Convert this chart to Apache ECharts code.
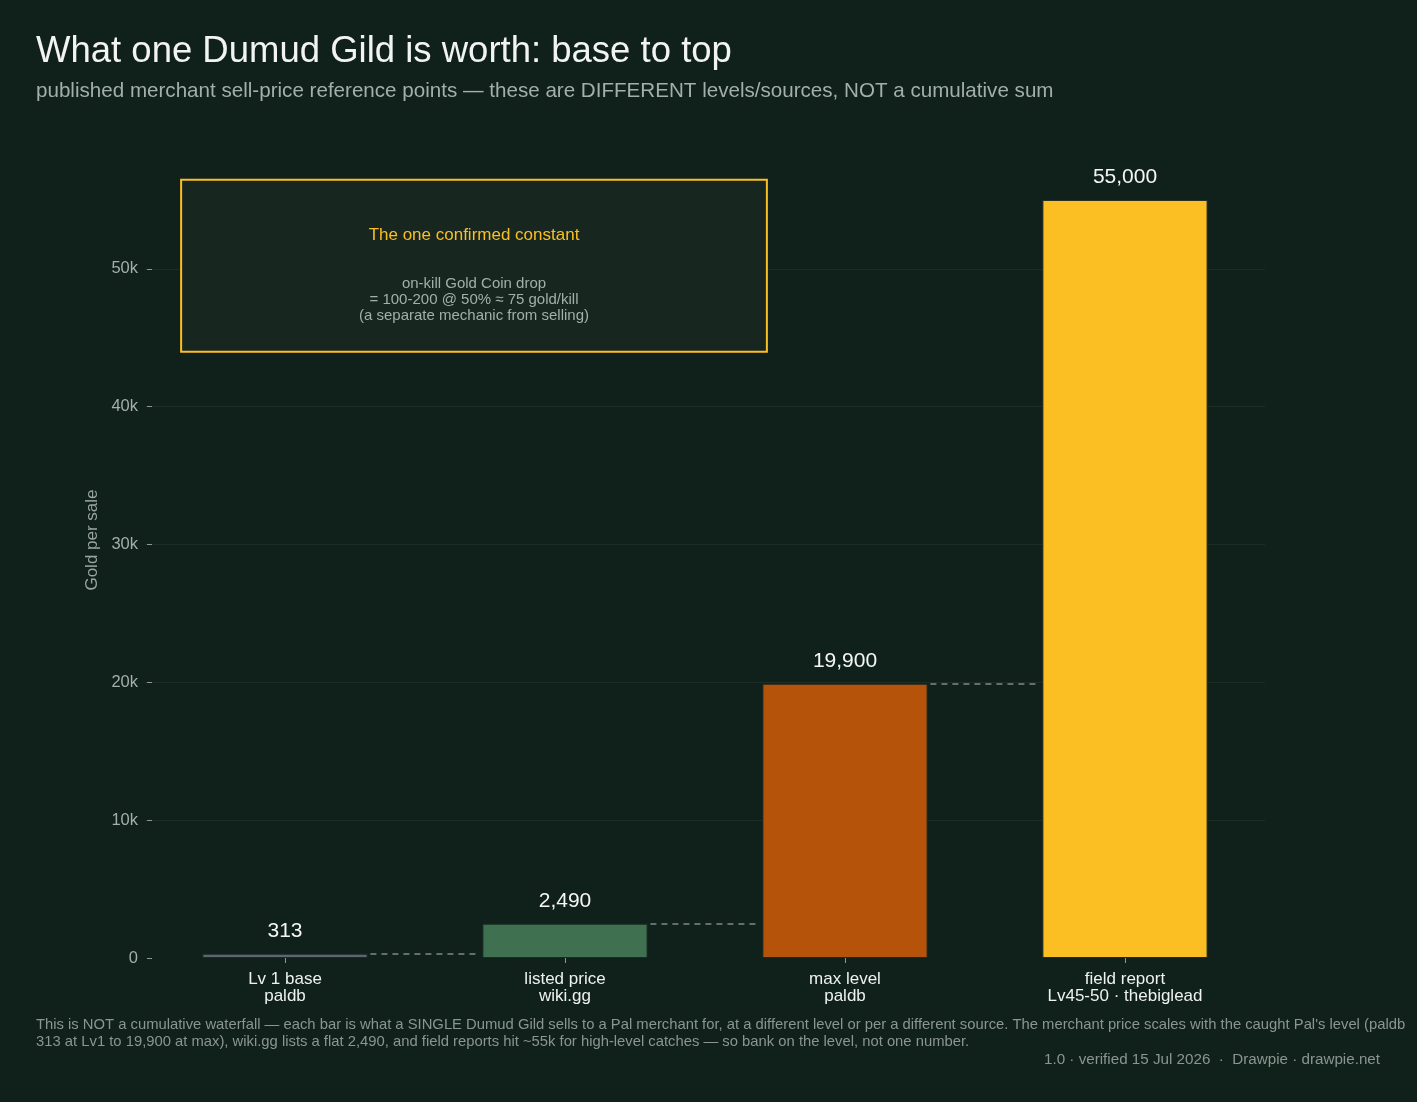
<!DOCTYPE html>
<html>
<head>
<meta charset="utf-8">
<script src="https://cdn.jsdelivr.net/npm/echarts@6/dist/echarts.min.js"></script>
<style>
  html, body { margin: 0; padding: 0; background: #10201a; }
  #chart { width: 1417px; height: 1102px; }
</style>
</head>
<body>
<div id="chart"></div>
<script>
var categories = ["Lv 1 base\npaldb", "listed price\nwiki.gg", "max level\npaldb", "field report\nLv45-50 · thebiglead"];
var values = [313, 2490, 19900, 55000];
var barColors = ["#5b6672", "#3f7050", "#b5530b", "#fbbf24"];
var yTicks = [0, 10000, 20000, 30000, 40000, 50000];

var chart = echarts.init(document.getElementById("chart"));

var halfBar = 0.295;
var connectors = [];
for (var i = 0; i < values.length - 1; i++) {
  connectors.push([
    { coord: [i + halfBar + 0.01, values[i]] },
    { coord: [i + 1 - halfBar - 0.01, values[i]] }
  ]);
}

chart.setOption({
  backgroundColor: "#10201a",
  textStyle: { fontFamily: "Liberation Sans, Arial, sans-serif" },
  title: [
    {
      text: "What one Dumud Gild is worth: base to top",
      left: 31, top: 28,
      textStyle: { color: "#f2f4f3", fontSize: 36.5, fontWeight: "normal" }
    },
    {
      text: "published merchant sell-price reference points — these are DIFFERENT levels/sources, NOT a cumulative sum",
      left: 31, top: 76,
      textStyle: { color: "#a3afa9", fontSize: 20.6, fontWeight: "normal" }
    },
    {
      text: "This is NOT a cumulative waterfall — each bar is what a SINGLE Dumud Gild sells to a Pal merchant for, at a different level or per a different source. The merchant price scales with the caught Pal's level (paldb\n313 at Lv1 to 19,900 at max), wiki.gg lists a flat 2,490, and field reports hit ~55k for high-level catches — so bank on the level, not one number.",
      left: 31, top: 1011,
      textStyle: { color: "#8a968f", fontSize: 14.8, fontWeight: "normal", lineHeight: 17 }
    },
    {
      text: "1.0 · verified 15 Jul 2026  ·  Drawpie · drawpie.net",
      right: 32, top: 1047,
      textStyle: { color: "#8a968f", fontSize: 15.2, fontWeight: "normal" }
    }
  ],
  graphic: [
    {
      type: "text",
      x: 92, y: 540,
      rotation: Math.PI / 2,
      style: {
        text: "Gold per sale",
        fill: "#99a59f",
        font: "17px Liberation Sans, Arial, sans-serif",
        align: "center",
        verticalAlign: "middle"
      }
    }
  ],
  grid: { left: 145, right: 152, top: 162, bottom: 144 },
  xAxis: [
    {
      type: "category",
      data: categories,
      axisLine: { show: false },
      axisTick: { show: true, alignWithLabel: true, length: 5, lineStyle: { color: "#8d9993" } },
      axisLabel: { color: "#eef1ef", fontSize: 17, lineHeight: 17, margin: 13 }
    },
    {
      type: "value",
      min: -0.5, max: 3.5,
      show: false
    }
  ],
  yAxis: {
    type: "value",
    min: 0,
    max: 57750,
    offset: -7,
    axisLine: { show: false, onZero: false },
    axisTick: { show: true, length: 5, customValues: yTicks, lineStyle: { color: "#8d9993" } },
    axisLabel: {
      color: "#a3afa9", fontSize: 16.5, margin: 14,
      customValues: yTicks,
      formatter: function (v) {
        return v === 0 ? "0" : (v / 1000) + "k";
      }
    },
    splitLine: { showMinLine: false, lineStyle: { color: "#1d2d26", width: 1 } }
  },
  series: [
    {
      type: "bar",
      data: values.map(function (v, i) {
        return { value: v, itemStyle: { color: barColors[i] } };
      }),
      barWidth: "59%",
      itemStyle: { borderColor: "#1b2a23", borderWidth: 1 },
      label: {
        show: true,
        position: "top",
        distance: 12,
        color: "#f4f6f5",
        fontSize: 21,
        formatter: function (p) { return p.value.toLocaleString("en-US"); }
      },
      z: 3
    },
    {
      type: "line",
      xAxisIndex: 1,
      data: [],
      silent: true,
      markLine: {
        symbol: "none",
        silent: true,
        label: { show: false },
        lineStyle: { color: "#7f8b85", type: [6, 5], width: 1.5 },
        data: connectors
      },
      markArea: {
        silent: true,
        itemStyle: { color: "#172720", borderColor: "#fbbf24", borderWidth: 2 },
        label: {
          show: true,
          position: "inside",
          offset: [0, 8],
          formatter: "{h|The one confirmed constant}\n{sp|}\n{b|on-kill Gold Coin drop}\n{b|= 100-200 @ 50% ≈ 75 gold/kill}\n{b|(a separate mechanic from selling)}",
          rich: {
            h: { color: "#fbbf24", fontSize: 17, lineHeight: 24 },
            sp: { lineHeight: 29 },
            b: { color: "#a3afa9", fontSize: 15, lineHeight: 16 }
          }
        },
        data: [[{ coord: [-0.371, 56460] }, { coord: [1.721, 43980] }]]
      }
    }
  ]
});
</script>
</body>
</html>
